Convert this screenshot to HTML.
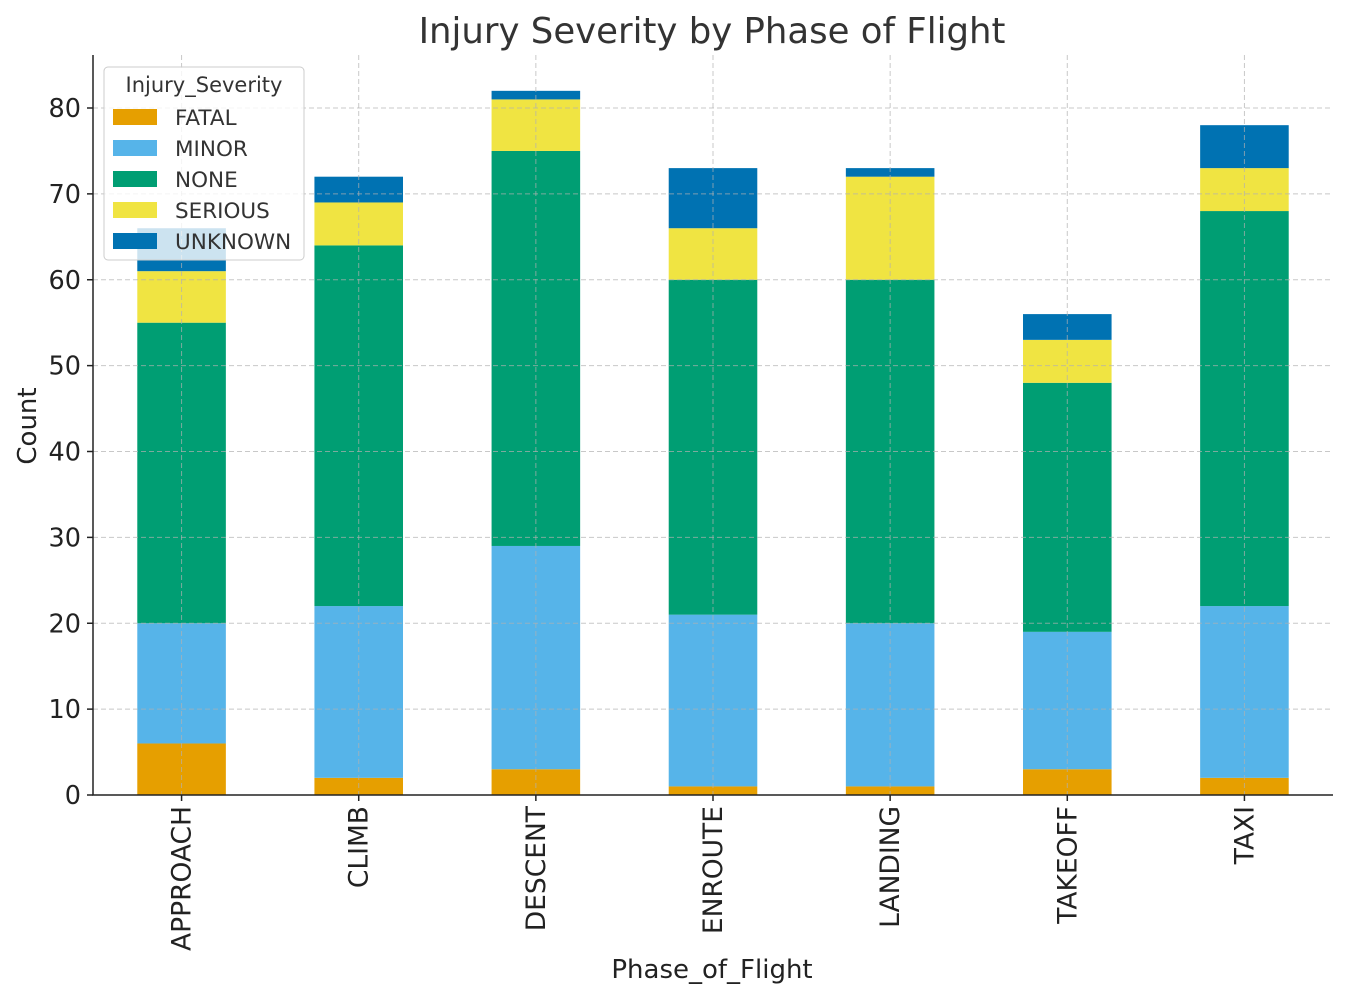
<!DOCTYPE html>
<html><head><meta charset="utf-8"><style>body{margin:0;background:#fff}svg{display:block;font-family:"DejaVu Sans","Liberation Sans",sans-serif}</style></head>
<body>
<svg id="chart" width="1348" height="999"></svg>
<script>
const categories=["APPROACH","CLIMB","DESCENT","ENROUTE","LANDING","TAKEOFF","TAXI"];
const seriesNames=["FATAL","MINOR","NONE","SERIOUS","UNKNOWN"];
const fatal=[6,2,3,1,1,3,2];
const minor=[14,20,26,20,19,16,20];
const none=[35,42,46,39,40,29,46];
const serious=[6,5,6,6,12,5,5];
const unknown=[5,3,1,7,1,3,5];
const yTicks=[0,10,20,30,40,50,60,70,80];
const colors=["#E69F00","#56B4E9","#009E73","#F0E442","#0072B2"];
const series=[fatal,minor,none,serious,unknown];
const NS="http://www.w3.org/2000/svg";
const svg=document.getElementById('chart');
const L=93,R=1333,T=55,B=795;
const step=(R-L)/categories.length;
const xc=i=>L+step*(i+0.5);
const y=v=>B-v*(B-108)/80;
function el(t,a,p){const e=document.createElementNS(NS,t);for(const k in a)e.setAttribute(k,a[k]);(p||svg).appendChild(e);return e;}
categories.forEach((c,i)=>{let acc=0;series.forEach((s,j)=>{const v=s[i];
 const r=el('rect',{x:xc(i)-step/4,y:y(acc+v),width:step/2,height:y(acc)-y(acc+v),fill:colors[j]});
 
 acc+=v;});});
yTicks.forEach(t=>{const g=el('line',{x1:L,x2:R,y1:y(t),y2:y(t),stroke:'#b0b0b0','stroke-width':1,'stroke-dasharray':'5,3','stroke-opacity':0.7});
 });
categories.forEach((c,i)=>{const g=el('line',{x1:xc(i),x2:xc(i),y1:T,y2:B,stroke:'#b0b0b0','stroke-width':1,'stroke-dasharray':'5,3','stroke-opacity':0.7});
 });
const ax=el('path',{d:`M${L},${T}V${B}H${R}`,stroke:'#222',fill:'none','stroke-width':1.5});

yTicks.forEach(t=>{el('line',{x1:L-6,x2:L,y1:y(t),y2:y(t),stroke:'#222','stroke-width':1.5});
 const tx=el('text',{x:L-12,y:y(t)+9,'text-anchor':'end','font-size':25.5,fill:'#222'});tx.textContent=t;
 });
categories.forEach((c,i)=>{el('line',{x1:xc(i),x2:xc(i),y1:B,y2:B+6,stroke:'#222','stroke-width':1.5});
 const tx=el('text',{x:0,y:0,'text-anchor':'end','font-size':26.5,fill:'#222',transform:`translate(${xc(i)+9},${B+11}) rotate(-90)`});tx.textContent=c;
 });
let t=el('text',{x:712,y:43,'text-anchor':'middle','font-size':35.5,fill:'#333'});t.textContent='Injury Severity by Phase of Flight';

t=el('text',{x:712,y:978,'text-anchor':'middle','font-size':26,fill:'#222'});t.textContent='Phase_of_Flight';

t=el('text',{x:0,y:0,'text-anchor':'middle','font-size':26,fill:'#222',transform:'translate(36,426) rotate(-90)'});t.textContent='Count';

const lg=el('g',{});
el('rect',{x:104,y:67,width:200,height:193,rx:4,fill:'#fff','fill-opacity':0.8,stroke:'#ccc'},lg);
t=el('text',{x:204,y:92,'text-anchor':'middle','font-size':21,fill:'#333'},lg);t.textContent='Injury_Severity';
seriesNames.forEach((n,j)=>{const yy=117+j*31;
 el('rect',{x:113,y:yy-8,width:44,height:16,fill:colors[j]},lg);
 const e=el('text',{x:175,y:yy+8,'font-size':21.5,fill:'#333'},lg);e.textContent=n;
 });
</script>
</body></html>
